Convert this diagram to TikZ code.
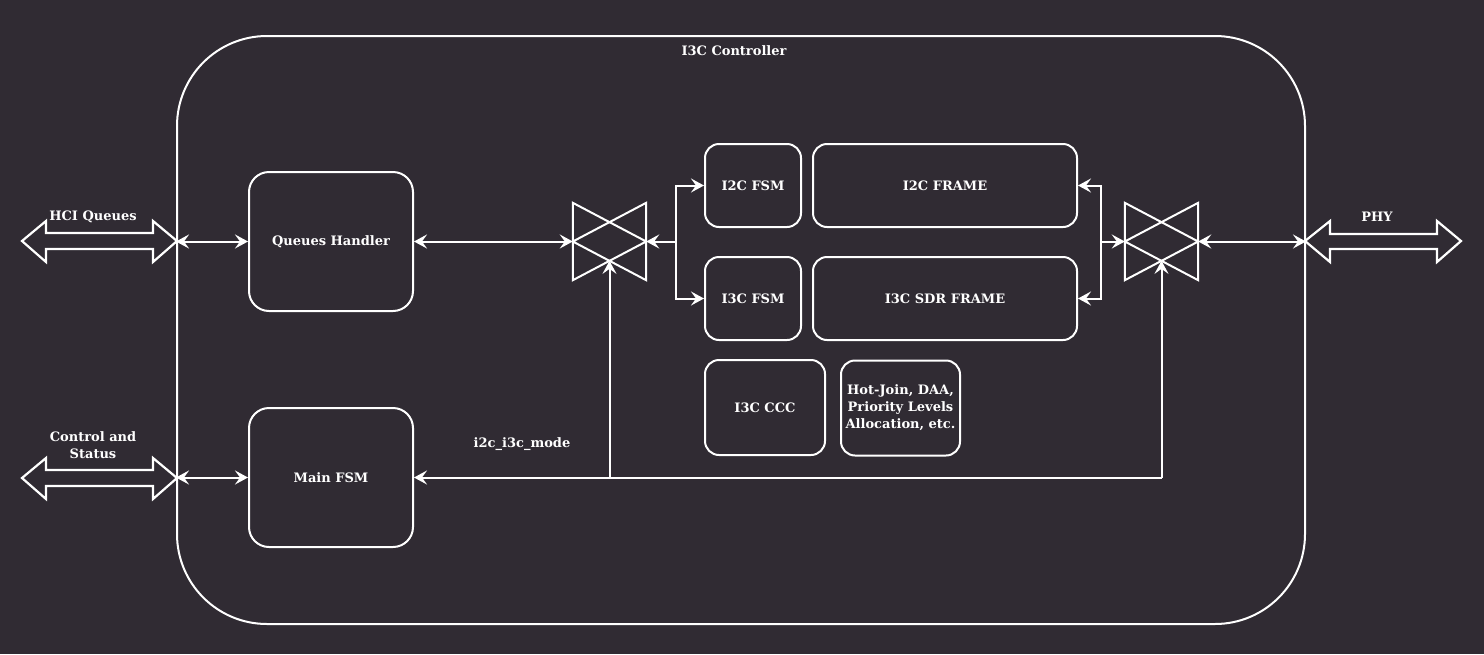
\documentclass[tikz,border=0pt]{standalone}
\usepackage{fontspec}
\setmainfont{DejaVu Serif}
\usepackage{xcolor}
\usetikzlibrary{arrows.meta, positioning, calc}
\definecolor{bgdark}{HTML}{302B33}

\tikzset{
  x=1pt, y=-1pt,
  txt/.style={text=white, font=\bfseries\fontsize{13}{17}\selectfont, align=center, inner sep=0pt},
  blk/.style={txt, draw=white, line width=2pt, rounded corners=14pt},
  bigblk/.style={blk, minimum width=164, minimum height=139, rounded corners=20pt},
  smallblk/.style={blk, minimum height=83},
  muxbox/.style={minimum width=73, minimum height=77, inner sep=0pt},
  conn/.style={draw=white, line width=2pt},
  tip/.tip={Stealth[length=13pt, width=14pt, inset=5pt]},
  bus/.style={draw=white, line width=2.2pt, line join=miter}
}

\begin{document}
\begin{tikzpicture}
  \fill[bgdark] (0,0) rectangle (1484,654);
  \useasboundingbox (0,0) rectangle (1484,654);

  % controller frame
  \node[draw=white, line width=2pt, rounded corners=90pt, minimum width=1128, minimum height=588] (ctrl) at (741,330) {};
  \node[txt] (ctrlLbl) at (734,51) {I3C Controller};

  % blocks
  \node[bigblk] (qh) at (331,241.5) {Queues Handler};
  \node[bigblk] (mfsm) at (331,477.5) {Main FSM};
  \node[smallblk, minimum width=96] (i2cfsm) at (753,185.5) {I2C FSM};
  \node[smallblk, minimum width=96] (i3cfsm) at (753,298.5) {I3C FSM};
  \node[smallblk, minimum width=264] (i2cfr) at (945,185.5) {I2C FRAME};
  \node[smallblk, minimum width=264] (i3cfr) at (945,298.5) {I3C SDR FRAME};
  \node[blk, minimum width=120, minimum height=95] (ccc) at (765,407.5) {I3C CCC};
  \node[blk, minimum width=119, minimum height=95] (hj) at (900.5,408) {Hot-Join, DAA,\\Priority Levels\\Allocation, etc.};

  % muxes
  \node[muxbox] (muxL) at (609.5,241.5) {};
  \node[muxbox] (muxR) at (1161.5,241.5) {};
  \foreach \m in {muxL, muxR} {
    \draw[conn] (\m.north west) -- (\m.south west) -- (\m.east) -- cycle;
    \draw[conn] (\m.north east) -- (\m.south east) -- (\m.west) -- cycle;
    \coordinate (\m-low) at ($(\m.center)!0.5!(\m.south)$);
  }

  % external buses
  \draw[bus] (22,241) -- (46,221) -- (46,233) -- (153,233) -- (153,221) -- (177,241)
    -- (153,262) -- (153,249) -- (46,249) -- (46,262) -- cycle;
  \node[txt] (hciLbl) at (93,217) {HCI Queues};
  \draw[bus] (22,478) -- (46,458) -- (46,470) -- (153,470) -- (153,458) -- (177,478)
    -- (153,499) -- (153,486) -- (46,486) -- (46,499) -- cycle;
  \node[txt] (csLbl) at (93,445) {Control and\\Status};
  \draw[bus] (1305,241) -- (1330,221) -- (1330,234) -- (1437,234) -- (1437,221) -- (1461,241)
    -- (1437,262) -- (1437,249) -- (1330,249) -- (1330,262) -- cycle;
  \node[txt] (phyLbl) at (1377,217) {PHY};

  % connectors
  \draw[conn, tip-tip] (ctrl.west |- qh.west) -- (qh.west);
  \draw[conn, tip-tip] (ctrl.west |- mfsm.west) -- (mfsm.west);
  \draw[conn, tip-tip] (qh.east) -- (muxL.west);

  \coordinate (jL) at (676,241.5);
  \draw[conn, -tip] (jL) -- (muxL.east);
  \draw[conn, -tip] (jL) |- (i2cfsm.west);
  \draw[conn, -tip] (jL) |- (i3cfsm.west);

  \coordinate (jR) at (1101,241.5);
  \draw[conn, -tip] (jR) -- (muxR.west);
  \draw[conn, -tip] (jR) |- (i2cfr.east);
  \draw[conn, -tip] (jR) |- (i3cfr.east);
  \draw[conn, tip-tip] (muxR.east) -- (ctrl.east |- muxR.east);

  \coordinate (modeR) at (muxR |- mfsm);
  \draw[conn, -tip] (modeR) -- (mfsm.east);
  \draw[conn, -tip] (modeR) -- (muxR-low);
  \draw[conn, -tip] (muxL |- mfsm) -- (muxL-low);
  \node[txt] (modeLbl) at (522,444) {i2c\_i3c\_mode};
\end{tikzpicture}
\end{document}
